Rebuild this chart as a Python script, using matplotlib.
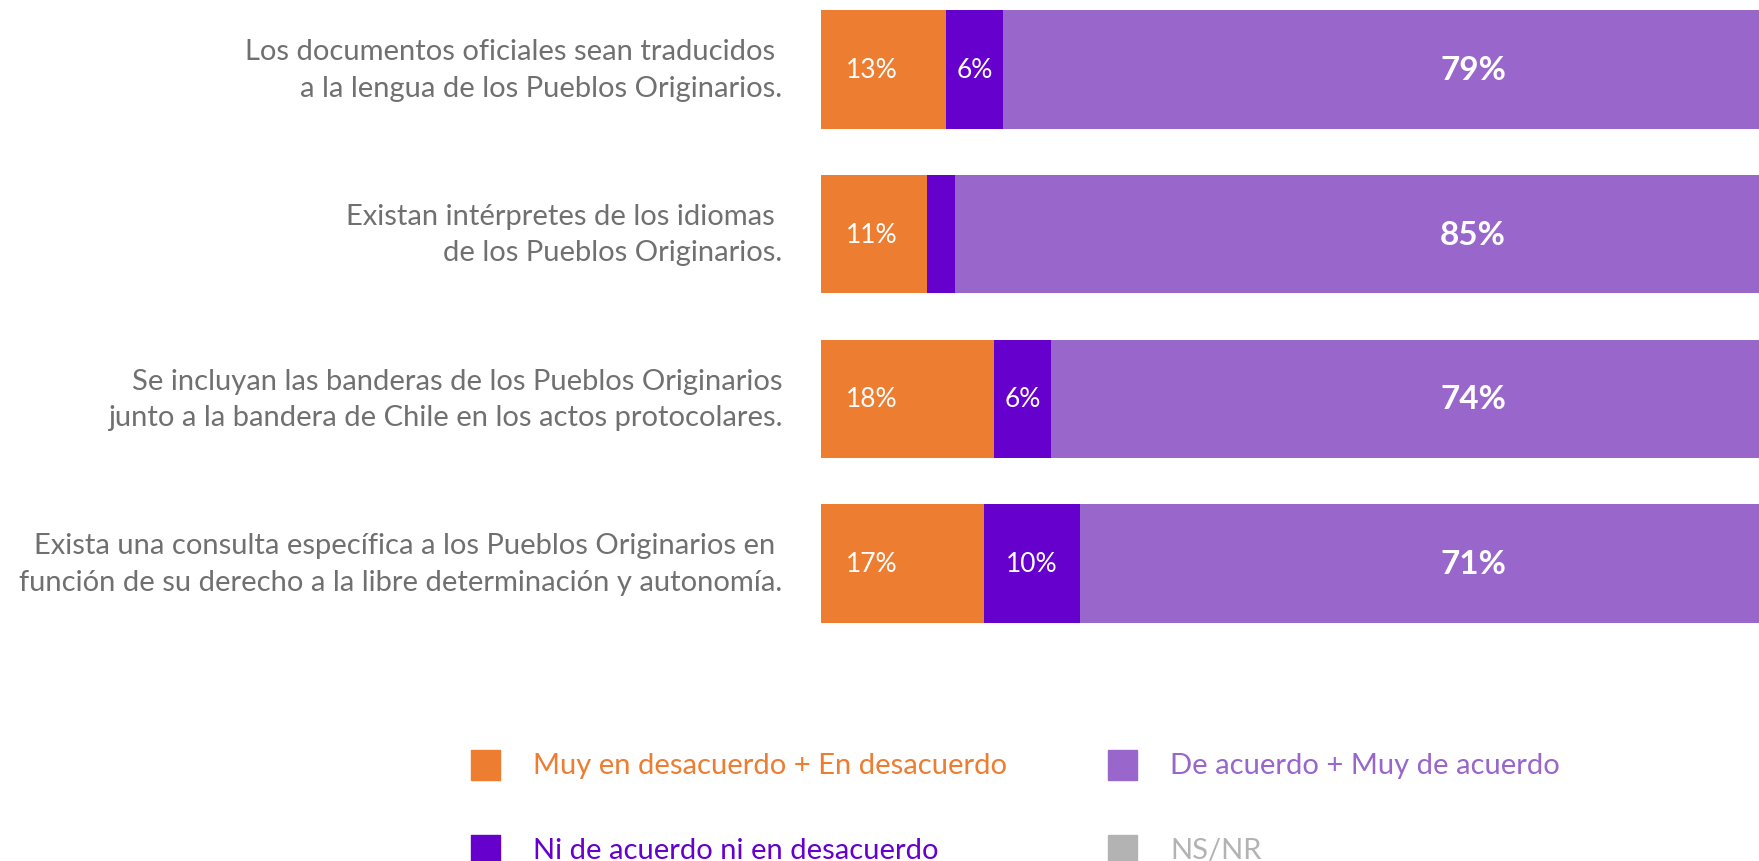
import matplotlib
matplotlib.use("Agg")
import matplotlib.pyplot as plt
from matplotlib.patches import Rectangle
import numpy as np

plt.rcParams["font.family"] = ["Lato", "DejaVu Sans"]

categories = [
    "Los documentos oficiales sean traducidos \na la lengua de los Pueblos Originarios.",
    "Existan intérpretes de los idiomas \nde los Pueblos Originarios.",
    "Se incluyan las banderas de los Pueblos Originarios\njunto a la bandera de Chile en los actos protocolares.",
    "Exista una consulta específica a los Pueblos Originarios en \nfunción de su derecho a la libre determinación y autonomía.",
]
desacuerdo = [13, 11, 18, 17]
neutral = [6, 3, 6, 10]
acuerdo = [79, 85, 74, 71]
nsnr = [2, 1, 2, 2]

series_names = ["Muy en desacuerdo + En desacuerdo", "Ni de acuerdo ni en desacuerdo",
                "De acuerdo + Muy de acuerdo", "NS/NR"]
colors = ["#ED7D31", "#6600CC", "#9966CC", "#B3B3B3"]

W, H = 1759, 862
fig = plt.figure(figsize=(W / 100, H / 100), dpi=100)
# axis deliberately runs past the right edge, as in the cropped original
ax = fig.add_axes([821 / W, 1 - 647 / H, 960 / W, 659 / H])

y = np.arange(len(categories))
h = 0.72
left = np.zeros(len(categories))
for vals, c in zip([desacuerdo, neutral, acuerdo, nsnr], colors):
    ax.barh(y, vals, h, left=left, color=c, edgecolor="none")
    left += np.array(vals)

ax.set_xlim(0, 100)
ax.set_ylim(3.5, -0.5)
ax.axis("off")

for i in y:
    ax.text(2.6, i, f"{desacuerdo[i]}%", ha="left", va="center",
            color="white", fontsize=19)
    if neutral[i] >= 5:
        ax.text(desacuerdo[i] + neutral[i] / 2, i, f"{neutral[i]}%",
                ha="center", va="center", color="white", fontsize=19)
    ax.text(64.5, i, f"{acuerdo[i]}%", ha="left", va="center",
            color="white", fontsize=24, fontweight="bold")
    ax.text(-4.0, i, categories[i], ha="right", va="center",
            color="#707070", fontsize=21, linespacing=1.5, clip_on=False)

# legend, two columns
leg_x = [471, 1108]
leg_y = [766, 851]
for k, (name, c) in enumerate(zip(series_names, colors)):
    col, row = k // 2, k % 2
    x0, y0 = leg_x[col], leg_y[row]
    fig.patches.append(Rectangle((x0 / W, 1 - (y0 + 15) / H), 29 / W, 30 / H,
                                 transform=fig.transFigure, color=c))
    fig.text((x0 + 62) / W, 1 - y0 / H, name, ha="left", va="center",
             color=c, fontsize=21)

fig.savefig("out.png", dpi=100)
